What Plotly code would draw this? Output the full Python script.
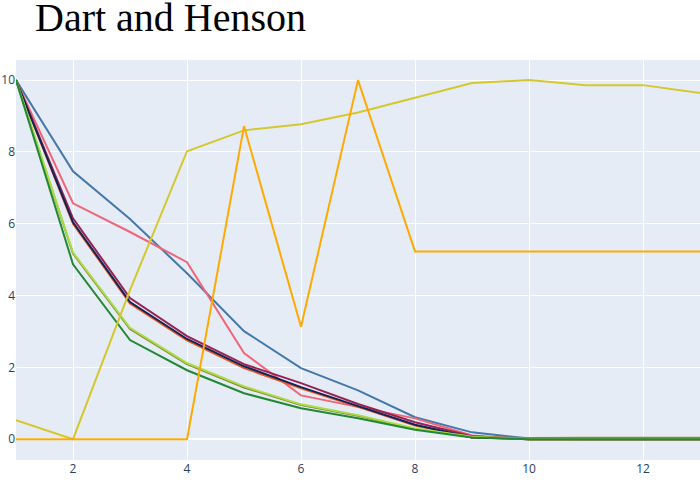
import plotly.graph_objects as go

steps = list(range(1, 14))

blue = [10, 7.46, 6.13, 4.62, 3.01, 1.98, 1.36, 0.61, 0.19, 0.02, 0, 0, 0]
pink = [10, 6.57, 5.77, 4.93, 2.4, 1.22, 0.9, 0.58, 0.1, 0, 0, 0, 0]
maroon = [10, 6.15, 3.93, 2.87, 2.09, 1.56, 0.98, 0.47, 0.08, 0, 0, 0, 0]
red_orange = [10, 6.0, 3.78, 2.75, 1.98, 1.42, 0.9, 0.38, 0.05, 0, 0, 0, 0]
navy = [10, 6.04, 3.82, 2.79, 2.03, 1.45, 0.92, 0.4, 0.05, 0, 0, 0, 0]
olive = [10, 5.17, 3.07, 2.09, 1.44, 0.95, 0.65, 0.28, 0.06, 0.03, 0.04, 0.04, 0.04]
lime = [10, 5.2, 3.1, 2.12, 1.47, 0.97, 0.67, 0.3, 0.07, 0, 0, 0, 0]
green = [10, 4.87, 2.76, 1.92, 1.28, 0.86, 0.58, 0.26, 0.05, 0, 0, 0, 0]
yellow = [0.53, 0, 4.15, 8.02, 8.6, 8.77, 9.1, 9.5, 9.92, 10.0, 9.86, 9.86, 9.64]
orange = [0, 0, 0, 0, 8.72, 3.13, 10.0, 5.23, 5.23, 5.23, 5.23, 5.23, 5.23]

series = [
    ("blue", blue, "#4477AA"),
    ("pink", pink, "#EE6677"),
    ("maroon", maroon, "#992255"),
    ("red_orange", red_orange, "#EE5522"),
    ("navy", navy, "#0F2557"),
    ("olive", olive, "#8A8A3A"),
    ("lime", lime, "#AADD44"),
    ("green", green, "#228833"),
    ("yellow", yellow, "#D4C82E"),
    ("orange", orange, "#FFAA00"),
]

fig = go.Figure()
for name, vals, col in series:
    fig.add_trace(go.Scatter(x=steps, y=vals, mode="lines", name=name,
                             line=dict(color=col, width=2)))

fig.update_layout(
    title=dict(text="Dart and Henson", font=dict(family="Liberation Serif", size=40, color="black"),
               x=0.05, y=0.966, yanchor="middle"),
    width=700, height=500,
    margin=dict(l=16, r=0, t=60, b=40),
    showlegend=False,
    template="plotly",
)
fig.update_xaxes(range=[1, 13], dtick=2)
fig.update_yaxes(range=[-0.58, 10.56], dtick=2, automargin=False)

# page body has an 8px default margin; drop it so the chart sits at the window corner
fig.write_html("out.html", config={"displayModeBar": False},
               post_script="document.body.style.margin='0';")
